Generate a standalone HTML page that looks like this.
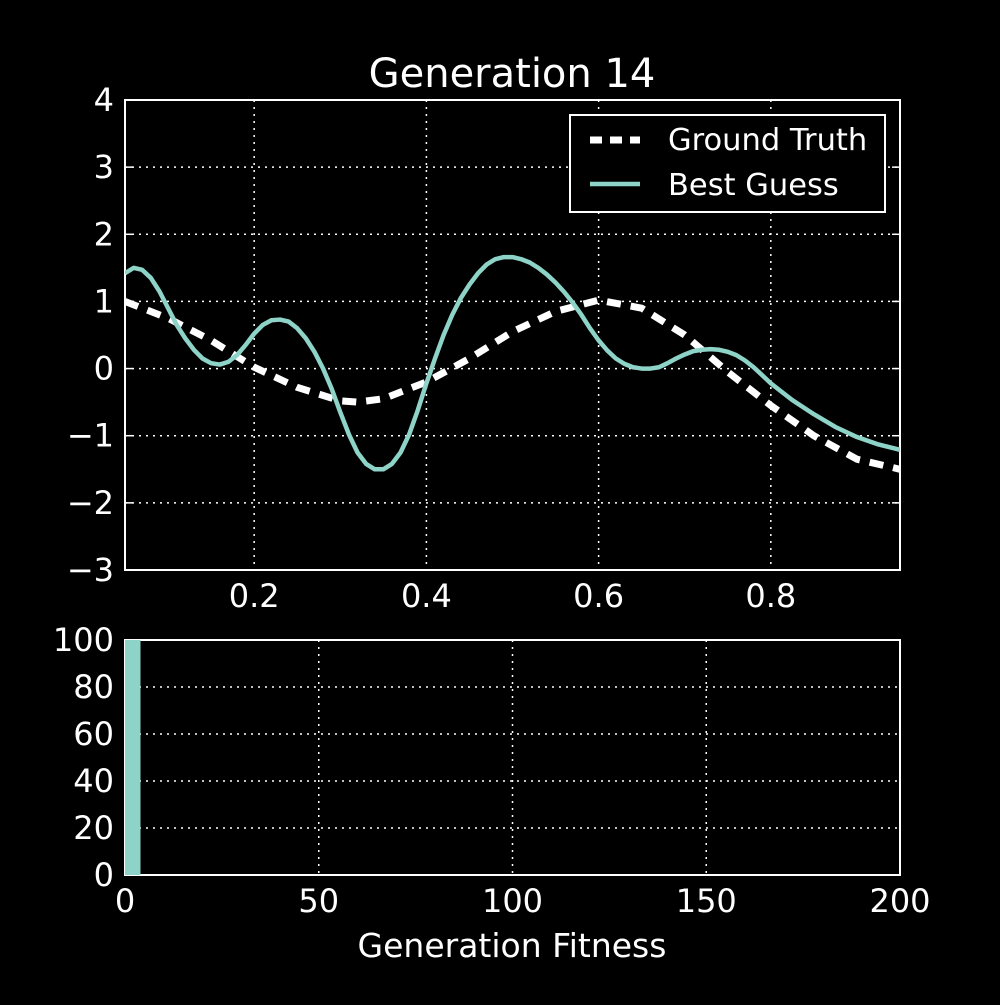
<!DOCTYPE html>
<html><head><meta charset="utf-8"><style>
body{margin:0;background:#000;width:1000px;height:1000px;overflow:hidden}
text{font-family:"DejaVu Sans","Liberation Sans",sans-serif;fill:#fff}
</style></head><body>
<svg id="c" width="1000" height="1000" xmlns="http://www.w3.org/2000/svg"></svg>
<script>
const truthX=[0.05,0.1,0.15,0.2,0.25,0.3,0.32,0.35,0.4,0.45,0.5,0.55,0.6,0.65,0.7,0.75,0.8,0.85,0.9,0.95];
const truthY=[1.0,0.75,0.42,0.02,-0.28,-0.48,-0.5,-0.45,-0.2,0.15,0.55,0.85,1.02,0.9,0.5,-0.05,-0.55,-1.0,-1.35,-1.5];
const guessX=[0.05,0.06,0.07,0.08,0.09,0.10,0.11,0.12,0.13,0.14,0.15,0.16,0.17,0.18,0.19,0.20,0.21,0.22,0.23,0.24,0.25,0.26,0.27,0.28,0.29,0.30,0.31,0.32,0.33,0.34,0.35,0.36,0.37,0.38,0.39,0.40,0.41,0.42,0.43,0.44,0.45,0.46,0.47,0.48,0.49,0.50,0.51,0.52,0.53,0.54,0.55,0.56,0.57,0.58,0.59,0.60,0.61,0.62,0.63,0.64,0.65,0.66,0.67,0.68,0.69,0.70,0.71,0.72,0.73,0.74,0.75,0.76,0.77,0.78,0.79,0.80,0.825,0.85,0.875,0.90,0.925,0.95];
const guessY=[1.42,1.5,1.47,1.35,1.15,0.9,0.65,0.45,0.28,0.15,0.08,0.06,0.1,0.2,0.35,0.52,0.65,0.72,0.73,0.7,0.6,0.45,0.25,0.0,-0.3,-0.65,-0.98,-1.25,-1.42,-1.5,-1.5,-1.42,-1.25,-0.98,-0.62,-0.22,0.15,0.5,0.8,1.05,1.25,1.42,1.55,1.63,1.66,1.66,1.63,1.58,1.5,1.4,1.28,1.14,0.98,0.8,0.6,0.42,0.27,0.15,0.07,0.02,0.0,0.0,0.02,0.08,0.15,0.21,0.26,0.28,0.29,0.28,0.25,0.2,0.12,0.02,-0.1,-0.22,-0.47,-0.68,-0.87,-1.02,-1.13,-1.21];
const topXTicks=[0.2,0.4,0.6,0.8];
const topYTicks=[4,3,2,1,0,-1,-2,-3];
const histBins=[0];
const histCounts=[100];
const histBinWidth=4;
const botXTicks=[0,50,100,150,200];
const botYTicks=[0,20,40,60,80,100];

const svg=document.getElementById('c');
const NS='http://www.w3.org/2000/svg';
function mk(tag,attrs,parent){const e=document.createElementNS(NS,tag);for(const k in attrs)e.setAttribute(k,attrs[k]);(parent||svg).appendChild(e);return e;}
const L=125,R=900;
const tx=v=>L+(v-0.05)/0.9*(R-L);
const ty=v=>100+(4-v)/7*470;
const bx=v=>L+v/200*(R-L);
const by=v=>875-v/100*235;
const minus=s=>String(s).replace('-','\u2212');

let t=mk('text',{x:512,y:87,'font-size':40,'text-anchor':'middle'});t.textContent='Generation 14';



const gTop=mk('g',{});


topXTicks.forEach(v=>{const x=tx(v);
 mk('line',{x1:x,x2:x,y1:100,y2:570,stroke:'#fff','stroke-width':1.5,'stroke-dasharray':'2,5'},gTop);
 const l=mk('text',{x:x,y:607,'font-size':32,'text-anchor':'middle'},gTop);l.textContent=v.toFixed(1);
 
 
});
topYTicks.forEach(v=>{const y=ty(v);
 mk('line',{x1:L,x2:R,y1:y,y2:y,stroke:'#fff','stroke-width':1.5,'stroke-dasharray':'2,5'},gTop);
 mk('line',{x1:L,x2:L+8,y1:y,y2:y,stroke:'#fff','stroke-width':1.5},gTop);
 mk('line',{x1:R-8,x2:R,y1:y,y2:y,stroke:'#fff','stroke-width':1.5},gTop);
 const l=mk('text',{x:114,y:y+11,'font-size':32,'text-anchor':'end'},gTop);l.textContent=minus(v);
 
 
});
const clip=mk('clipPath',{id:'cp'});mk('rect',{x:L,y:100,width:R-L,height:470},clip);
const tp=mk('polyline',{points:truthX.map((x,i)=>tx(x)+','+ty(truthY[i])).join(' '),fill:'none',stroke:'#fff','stroke-width':7,'stroke-dasharray':'14,10','clip-path':'url(#cp)'});


const gp=mk('polyline',{points:guessX.map((x,i)=>tx(x)+','+ty(guessY[i])).join(' '),fill:'none',stroke:'#8dd3c7','stroke-width':4.5,'stroke-linejoin':'round','clip-path':'url(#cp)'});


mk('rect',{x:L,y:100,width:R-L,height:470,fill:'none',stroke:'#fff','stroke-width':2},gTop);

const lg=mk('g',{});


mk('rect',{x:570,y:115,width:315,height:97,fill:'#000',stroke:'#fff','stroke-width':2},lg);
mk('line',{x1:590,x2:640,y1:140,y2:140,stroke:'#fff','stroke-width':7,'stroke-dasharray':'12,8'},lg);
let l1=mk('text',{x:668,y:150,'font-size':30.5},lg);l1.textContent='Ground Truth';


mk('line',{x1:590,x2:640,y1:184,y2:184,stroke:'#8dd3c7','stroke-width':4.5},lg);
let l2=mk('text',{x:668,y:195,'font-size':30.5},lg);l2.textContent='Best Guess';



const gB=mk('g',{});


botXTicks.forEach(v=>{const x=bx(v);
 mk('line',{x1:x,x2:x,y1:640,y2:875,stroke:'#fff','stroke-width':1.5,'stroke-dasharray':'2,5'},gB);
 const l=mk('text',{x:x,y:912,'font-size':32,'text-anchor':'middle'},gB);l.textContent=v;
 
 
});
botYTicks.forEach(v=>{const y=by(v);
 mk('line',{x1:L,x2:R,y1:y,y2:y,stroke:'#fff','stroke-width':1.5,'stroke-dasharray':'2,5'},gB);
 const l=mk('text',{x:114,y:y+11,'font-size':32,'text-anchor':'end'},gB);l.textContent=v;
 
 
});
histBins.forEach((b,i)=>{
 const r=mk('rect',{x:bx(b),y:by(histCounts[i]),width:bx(b+histBinWidth)-bx(b),height:by(0)-by(histCounts[i]),fill:'#8dd3c7'});
 
 
});
mk('rect',{x:L,y:640,width:R-L,height:235,fill:'none',stroke:'#fff','stroke-width':2},gB);
let xl=mk('text',{x:512,y:957,'font-size':33,'text-anchor':'middle'});xl.textContent='Generation Fitness';


</script>
</body></html>
